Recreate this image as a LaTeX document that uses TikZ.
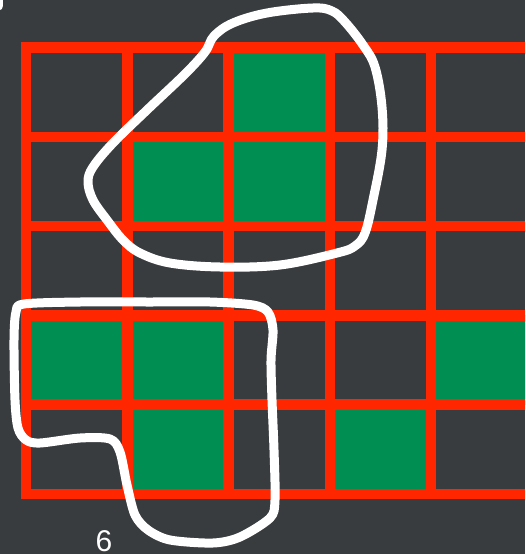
\documentclass[tikz,border=0pt]{standalone}
\usepackage{fontspec}
\setmainfont{Liberation Sans}
\definecolor{BoardClr}{RGB}{57,60,62}
\definecolor{GridClr}{RGB}{255,38,0}
\definecolor{CellClr}{RGB}{0,142,82}

\begin{document}
\begin{tikzpicture}[x=1pt,y=-1pt,
  gridline/.style={line width=10.5pt,color=GridClr},
  cell/.style={fill=CellClr},
  loopline/.style={line width=9pt,color=white,line cap=round,line join=round}]
\fill[BoardClr] (0,0) rectangle (525,554);
\useasboundingbox (0,0) rectangle (525,554);
\clip (0,0) rectangle (525,554);

\def\cw{101.25}
\def\ch{89.25}

\foreach \c/\r in {2/0,1/1,2/1,0/3,1/3,4/3,1/4,3/4}
  \fill[cell] ({26+\c*\cw},{47.5+\r*\ch}) rectangle +(\cw,\ch);

\foreach \c in {0,...,4}
  \draw[gridline] ({26+\c*\cw},42.25) -- ({26+\c*\cw},499);
\foreach \r in {0,...,5}
  \draw[gridline] (20.75,{47.5+\r*\ch}) -- (525,{47.5+\r*\ch});

\draw[loopline] plot[smooth cycle,tension=0.6] coordinates {
  (233,23) (267,13) (313,8) (332,11) (345,22) (363,45) (375,67) (382,107)
  (382,150) (373,200) (365,233) (355,246) (337,253) (280,265) (220,267)
  (170,263) (140,253) (123,240) (107,220) (93,200) (88,182) (93,167)
  (113,143) (147,110) (185,74) (205,52) (214,36)};

\draw[loopline] plot[smooth cycle,tension=0.5] coordinates {
  (24,304) (80,302) (150,302) (210,302) (253,305) (268,312) (273,330)
  (271,360) (272,400) (274,450) (275,500) (270,518) (240,537) (213,543)
  (170,540) (148,530) (135,515) (127,485) (120,452) (110,439) (80,438)
  (40,443) (26,440) (18,428) (15,400) (14,340) (16,312)};

\draw[loopline] (-2,-6) -- (-1.5,6);

\node[anchor=base,font=\fontsize{30}{30}\selectfont,text=white] (six) at (104,551.5) {6};
\end{tikzpicture}
\end{document}
